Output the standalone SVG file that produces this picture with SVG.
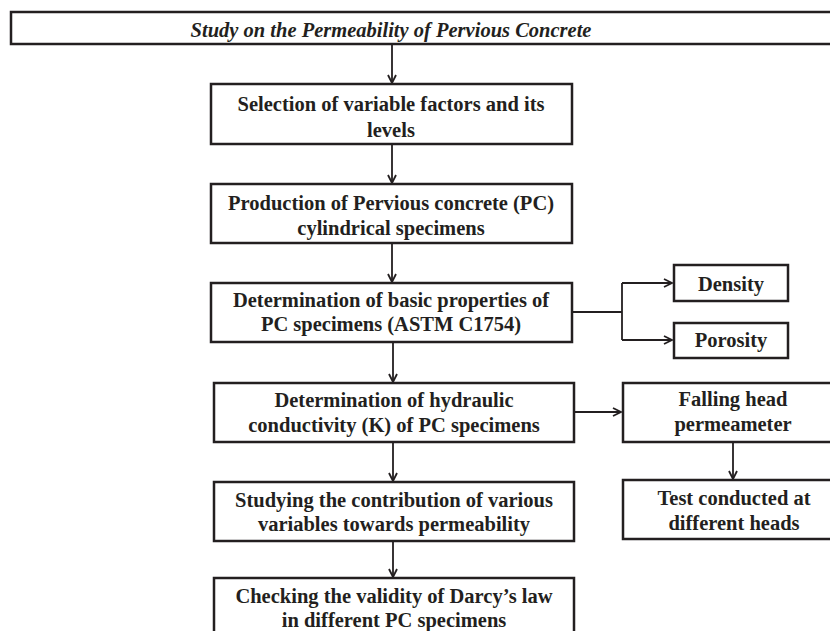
<svg xmlns="http://www.w3.org/2000/svg" width="830" height="631" viewBox="0 0 830 631">
<defs>
<style>
.box{fill:#fff;stroke:#231f20;stroke-width:2.5}
.t{font-family:"Liberation Serif","Times New Roman",serif;font-weight:bold;font-size:20.5px;fill:#231f20;text-anchor:middle}
.ti{font-style:italic}
.c{fill:none;stroke:#231f20;stroke-width:1.8}
</style>
<marker id="arr" viewBox="0 0 10 10" refX="9" refY="5" markerWidth="10" markerHeight="10" markerUnits="userSpaceOnUse" orient="auto">
<path d="M1,1 L9,5 L1,9" fill="none" stroke="#231f20" stroke-width="1.8"/>
</marker>
</defs>
<rect width="830" height="631" fill="#fff"/>
<g id="connectors">
<line class="c" x1="392" y1="44" x2="392" y2="83" marker-end="url(#arr)"/>
<line class="c" x1="392" y1="144" x2="392" y2="183" marker-end="url(#arr)"/>
<line class="c" x1="392" y1="243" x2="392" y2="282" marker-end="url(#arr)"/>
<polyline class="c" points="572,312 622,312"/>
<polyline class="c" points="622,283 622,340"/>
<line class="c" x1="622" y1="283" x2="672" y2="283" marker-end="url(#arr)"/>
<line class="c" x1="622" y1="340" x2="672" y2="340" marker-end="url(#arr)"/>
<line class="c" x1="393" y1="342" x2="393" y2="382" marker-end="url(#arr)"/>
<line class="c" x1="574" y1="412" x2="621" y2="412" marker-end="url(#arr)"/>
<line class="c" x1="733" y1="442" x2="733" y2="479" marker-end="url(#arr)"/>
<line class="c" x1="393" y1="442" x2="393" y2="481" marker-end="url(#arr)"/>
<line class="c" x1="393" y1="541" x2="393" y2="577" marker-end="url(#arr)"/>
</g>
<g id="title">
<rect class="box" x="11" y="12" width="830" height="32"/>
<text class="t ti" x="391" y="37">Study on the Permeability of Pervious Concrete</text>
</g>
<g id="selection">
<rect class="box" x="211" y="84" width="361" height="60"/>
<text class="t" x="391" y="111">Selection of variable factors and its</text>
<text class="t" x="391" y="137">levels</text>
</g>
<g id="production">
<rect class="box" x="211" y="184" width="361" height="59"/>
<text class="t" x="391" y="210">Production of Pervious concrete (PC)</text>
<text class="t" x="391" y="235">cylindrical specimens</text>
</g>
<g id="basic">
<rect class="box" x="211" y="283" width="361" height="59"/>
<text class="t" x="391" y="307">Determination of basic properties of</text>
<text class="t" x="391" y="331">PC specimens (ASTM C1754)</text>
</g>
<g id="density">
<rect class="box" x="674" y="265" width="114" height="36"/>
<text class="t" x="731" y="291">Density</text>
</g>
<g id="porosity">
<rect class="box" x="674" y="323" width="114" height="35"/>
<text class="t" x="731" y="347">Porosity</text>
</g>
<g id="hydraulic">
<rect class="box" x="214" y="383" width="360" height="59"/>
<text class="t" x="394" y="407">Determination of hydraulic</text>
<text class="t" x="394" y="432">conductivity (K) of PC specimens</text>
</g>
<g id="falling">
<rect class="box" x="623" y="383" width="222" height="59"/>
<text class="t" x="733" y="406">Falling head</text>
<text class="t" x="733" y="431">permeameter</text>
</g>
<g id="test">
<rect class="box" x="623" y="480" width="222" height="59"/>
<text class="t" x="734" y="505">Test conducted at</text>
<text class="t" x="734" y="530">different heads</text>
</g>
<g id="studying">
<rect class="box" x="214" y="482" width="360" height="59"/>
<text class="t" x="394" y="507">Studying the contribution of various</text>
<text class="t" x="394" y="531">variables towards permeability</text>
</g>
<g id="checking">
<rect class="box" x="214" y="578" width="360" height="70"/>
<text class="t" x="394" y="603">Checking the validity of Darcy’s law</text>
<text class="t" x="394" y="627">in different PC specimens</text>
</g>
</svg>
